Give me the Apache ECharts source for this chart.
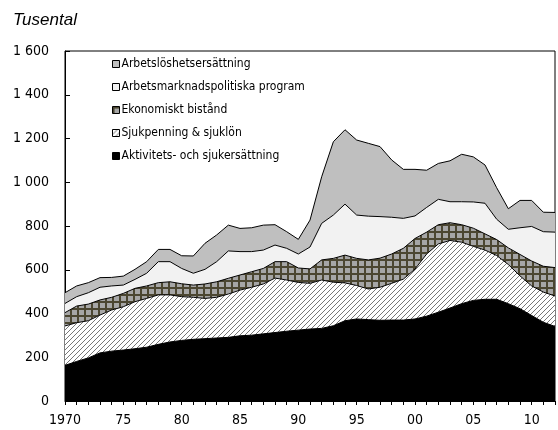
<!DOCTYPE html>
<html>
<head>
<meta charset="utf-8">
<script src="https://cdn.jsdelivr.net/npm/echarts@6/dist/echarts.min.js"></script>
<style>
html, body { margin: 0; padding: 0; background: #fff; }
#main { width: 558px; height: 430px; }
</style>
</head>
<body>
<div id="main"></div>
<script>
var years = [1970, 1971, 1972, 1973, 1974, 1975, 1976, 1977, 1978, 1979,
    1980, 1981, 1982, 1983, 1984, 1985, 1986, 1987, 1988, 1989,
    1990, 1991, 1992, 1993, 1994, 1995, 1996, 1997, 1998, 1999,
    2000, 2001, 2002, 2003, 2004, 2005, 2006, 2007, 2008, 2009,
    2010, 2011, 2012];

// tusental, läst ur bilden
var aktivitets = [163, 181, 197, 220, 228, 233, 239, 246, 259, 270, 277, 282, 285, 288, 291, 298, 301, 307, 313, 319, 324, 329, 332, 344, 367, 375, 372, 369, 370, 370, 375, 388, 406, 425, 445, 460, 465, 465, 445, 422, 391, 360, 341];
var sjukpenning = [180, 177, 170, 173, 188, 198, 215, 223, 226, 215, 200, 192, 184, 186, 198, 209, 219, 228, 249, 234, 218, 209, 221, 199, 173, 153, 140, 151, 168, 187, 228, 284, 312, 309, 281, 247, 225, 200, 179, 150, 135, 138, 139];
var ekonomiskt = [61, 76, 76, 69, 58, 61, 61, 57, 56, 60, 59, 56, 66, 71, 72, 69, 71, 71, 75, 84, 66, 66, 92, 109, 127, 124, 133, 133, 134, 141, 140, 100, 88, 81, 80, 83, 74, 73, 76, 98, 114, 118, 130];
var program = [42, 43, 52, 58, 52, 38, 41, 58, 96, 92, 70, 54, 67, 92, 125, 107, 92, 84, 76, 61, 64, 100, 167, 198, 233, 198, 200, 190, 168, 137, 103, 113, 116, 96, 105, 120, 140, 93, 85, 122, 158, 158, 162];
var arbetsloshet = [49, 49, 46, 44, 39, 41, 46, 53, 56, 56, 58, 79, 119, 122, 118, 106, 109, 114, 93, 76, 67, 123, 213, 335, 340, 343, 333, 320, 262, 224, 213, 170, 164, 187, 217, 206, 175, 144, 94, 125, 119, 89, 90];

var names = ['Arbetslöshetsersättning', 'Arbetsmarknadspolitiska program', 'Ekonomiskt bistånd', 'Sjukpenning & sjuklön', 'Aktivitets- och sjukersättning'];

var narrow = "'Liberation Sans Narrow', 'Arial Narrow', 'DejaVu Sans Condensed', 'Liberation Sans', sans-serif";

function hatch() {
    var c = document.createElement('canvas');
    c.width = 5;
    c.height = 5;
    var ctx = c.getContext('2d');
    ctx.fillStyle = '#fff';
    ctx.fillRect(0, 0, 5, 5);
    ctx.strokeStyle = '#777';
    ctx.lineWidth = 1;
    ctx.beginPath();
    ctx.moveTo(-1, 6); ctx.lineTo(6, -1);
    ctx.moveTo(-1, 1); ctx.lineTo(1, -1);
    ctx.moveTo(4, 6); ctx.lineTo(6, 4);
    ctx.stroke();
    return { image: c, repeat: 'repeat' };
}

function crosshatch() {
    var c = document.createElement('canvas');
    c.width = 7;
    c.height = 7;
    var ctx = c.getContext('2d');
    ctx.fillStyle = '#a6a6a6';
    ctx.fillRect(0, 0, 7, 7);
    ctx.fillStyle = '#4b4631';
    ctx.fillRect(0, 0, 7, 2);
    ctx.fillRect(0, 0, 2, 7);
    return { image: c, repeat: 'repeat' };
}

function makeSeries(name, data, fill, z) {
    return {
        name: name,
        type: 'line',
        stack: 'total',
        data: data,
        symbol: 'none',
        z: z,
        lineStyle: { color: '#000', width: 1 },
        itemStyle: { color: fill },
        areaStyle: { color: fill, opacity: 1 },
        emphasis: { disabled: true }
    };
}

var chart = echarts.init(document.getElementById('main'));
chart.setOption({
    animation: false,
    title: {
        text: 'Tusental',
        left: 8,
        top: 7,
        textStyle: { fontFamily: 'Liberation Sans, Arial, sans-serif', fontStyle: 'italic', fontWeight: 'normal', fontSize: 17, color: '#000' }
    },
    legend: {
        orient: 'vertical',
        left: 112,
        top: 58,
        padding: 0,
        icon: 'rect',
        itemWidth: 7,
        itemHeight: 7,
        itemGap: 11,
        data: names,
        itemStyle: { borderColor: '#000', borderWidth: 1 },
        textStyle: { fontFamily: narrow, fontSize: 12, color: '#000', padding: [0, 0, 0, -3] }
    },
    grid: {
        left: 65,
        right: -1,
        top: 51,
        bottom: 29,
        show: true,
        borderColor: '#000',
        borderWidth: 1,
        containLabel: false
    },
    xAxis: {
        type: 'category',
        data: years,
        boundaryGap: false,
        axisLine: { lineStyle: { color: '#000', width: 1 } },
        axisTick: { show: true, interval: 0, length: 4, inside: false, lineStyle: { color: '#000' } },
        axisLabel: {
            interval: 0,
            margin: 12,
            color: '#000',
            fontFamily: narrow,
            fontSize: 14,
            formatter: function (v) {
                var y = Number(v);
                if (y % 5 !== 0) return '';
                if (y === 1970) return '1970';
                return String(y).slice(2);
            }
        },
        splitLine: { show: false }
    },
    yAxis: {
        type: 'value',
        min: 0,
        max: 1600,
        interval: 200,
        axisLine: { show: true, lineStyle: { color: '#000', width: 1 } },
        axisTick: { show: true, inside: true, length: 5, lineStyle: { color: '#000' } },
        axisLabel: {
            margin: 16,
            color: '#000',
            fontFamily: narrow,
            fontSize: 14,
            formatter: function (v) {
                return String(v).replace(/\B(?=(\d{3})+(?!\d))/g, ' ');
            }
        },
        splitLine: { show: false }
    },
    series: [
        makeSeries(names[4], aktivitets, '#000', 10),
        makeSeries(names[3], sjukpenning, hatch(), 9),
        makeSeries(names[2], ekonomiskt, crosshatch(), 8),
        makeSeries(names[1], program, '#f2f2f2', 7),
        makeSeries(names[0], arbetsloshet, '#bfbfbf', 6)
    ]
});
</script>
</body>
</html>
